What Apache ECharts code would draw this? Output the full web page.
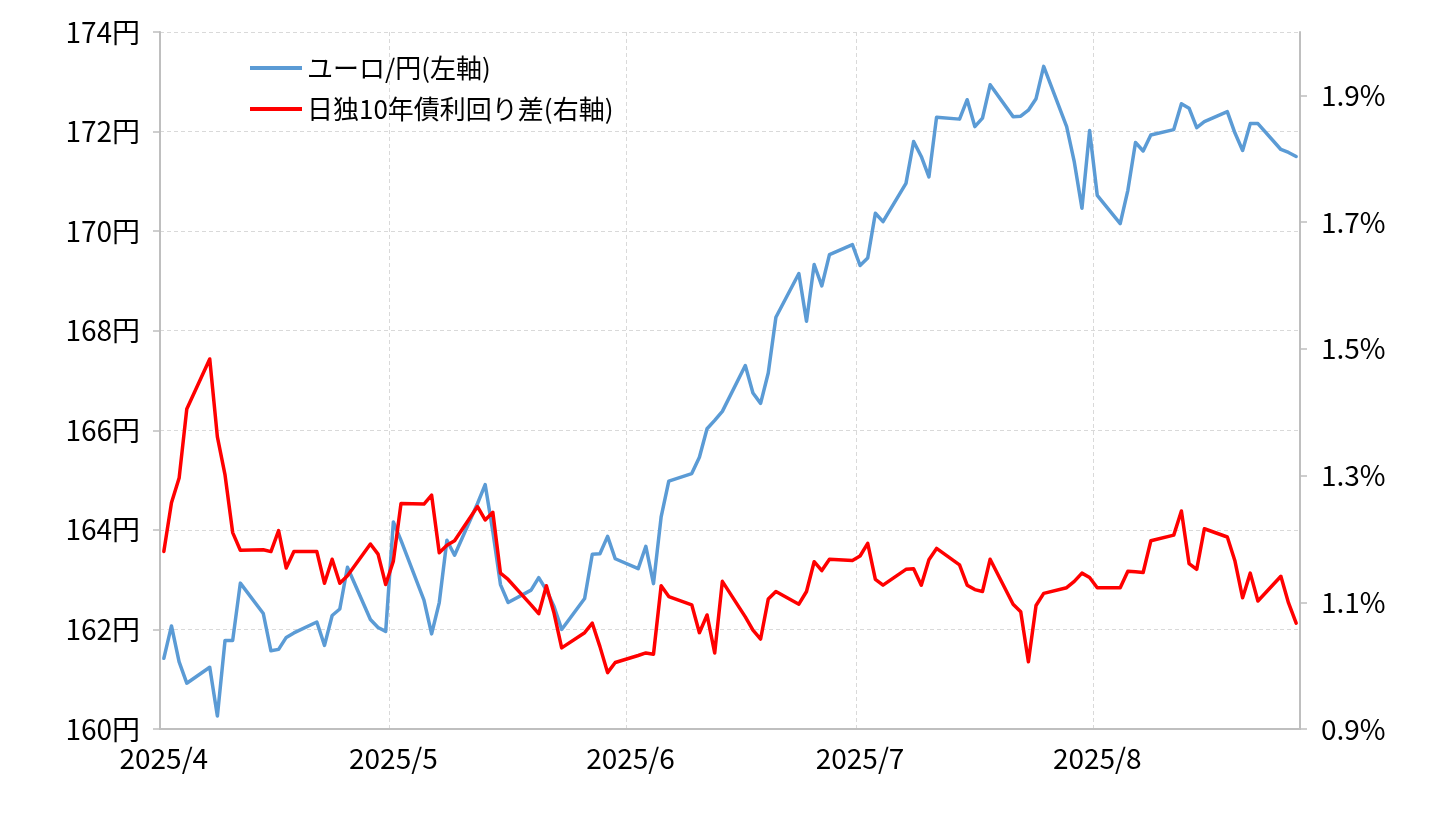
<!DOCTYPE html>
<html>
<head>
<meta charset="utf-8">
<script src="https://cdn.jsdelivr.net/npm/echarts@6/dist/echarts.min.js"></script>
<style>
html,body{margin:0;padding:0;background:#fff;}
#chart{width:1456px;height:816px;}
</style>
</head>
<body>
<div id="chart"></div>
<script>
// trading dates
const tradeDates = [
'2025-04-01','2025-04-02','2025-04-03','2025-04-04','2025-04-07','2025-04-08','2025-04-09','2025-04-10','2025-04-11','2025-04-14','2025-04-15','2025-04-16','2025-04-17','2025-04-18','2025-04-21','2025-04-22','2025-04-23','2025-04-24','2025-04-25','2025-04-28','2025-04-29','2025-04-30',
'2025-05-01','2025-05-02','2025-05-05','2025-05-06','2025-05-07','2025-05-08','2025-05-09','2025-05-12','2025-05-13','2025-05-14','2025-05-15','2025-05-16','2025-05-19','2025-05-20','2025-05-21','2025-05-22','2025-05-23','2025-05-26','2025-05-27','2025-05-28','2025-05-29','2025-05-30',
'2025-06-02','2025-06-03','2025-06-04','2025-06-05','2025-06-06','2025-06-09','2025-06-10','2025-06-11','2025-06-12','2025-06-13','2025-06-16','2025-06-17','2025-06-18','2025-06-19','2025-06-20','2025-06-23','2025-06-24','2025-06-25','2025-06-26','2025-06-27','2025-06-30',
'2025-07-01','2025-07-02','2025-07-03','2025-07-04','2025-07-07','2025-07-08','2025-07-09','2025-07-10','2025-07-11','2025-07-14','2025-07-15','2025-07-16','2025-07-17','2025-07-18','2025-07-21','2025-07-22','2025-07-23','2025-07-24','2025-07-25','2025-07-28','2025-07-29','2025-07-30','2025-07-31',
'2025-08-01','2025-08-04','2025-08-05','2025-08-06','2025-08-07','2025-08-08','2025-08-11','2025-08-12','2025-08-13','2025-08-14','2025-08-15','2025-08-18','2025-08-19','2025-08-20','2025-08-21','2025-08-22','2025-08-25','2025-08-26','2025-08-27'
];

// ユーロ/円 (left axis, yen)
const eurJpy = [
161.42,162.07,161.35,160.92,161.24,160.26,161.78,161.78,162.93,162.32,161.57,161.60,161.84,161.93,162.15,161.68,162.28,162.41,163.25,162.20,162.04,161.96,
164.16,163.79,162.59,161.91,162.54,163.79,163.49,164.53,164.91,163.97,162.90,162.54,162.79,163.04,162.79,162.46,162.00,162.62,163.51,163.52,163.87,163.42,
163.22,163.67,162.92,164.26,164.98,165.13,165.46,166.03,166.20,166.38,167.30,166.75,166.54,167.15,168.27,169.15,168.19,169.33,168.90,169.53,169.73,
169.31,169.46,170.36,170.19,170.96,171.80,171.50,171.09,172.29,172.25,172.64,172.10,172.27,172.94,172.30,172.31,172.43,172.66,173.31,172.10,171.39,170.46,172.02,
170.72,170.15,170.82,171.78,171.61,171.93,172.04,172.56,172.47,172.08,172.20,172.40,171.97,171.62,172.16,172.16,171.64,171.58,171.50
];

// 日独10年債利回り差 (right axis, %)
const spread = [
1.180,1.257,1.296,1.405,1.484,1.361,1.301,1.210,1.182,1.183,1.180,1.213,1.154,1.180,1.180,1.130,1.168,1.130,1.142,1.192,1.176,1.128,
1.165,1.256,1.255,1.269,1.178,1.190,1.197,1.251,1.230,1.242,1.146,1.136,1.096,1.082,1.126,1.083,1.028,1.052,1.067,1.030,0.989,1.005,
1.016,1.020,1.018,1.126,1.109,1.096,1.052,1.080,1.020,1.133,1.077,1.056,1.042,1.105,1.117,1.097,1.117,1.164,1.150,1.168,1.166,
1.173,1.193,1.136,1.127,1.152,1.153,1.127,1.167,1.185,1.159,1.127,1.120,1.117,1.168,1.097,1.085,1.006,1.095,1.114,1.123,1.133,1.146,1.139,
1.123,1.123,1.149,1.148,1.147,1.197,1.206,1.244,1.161,1.152,1.216,1.203,1.165,1.107,1.146,1.102,1.141,1.099,1.067
];

const seriesNames = ['ユーロ/円(左軸)', '日独10年債利回り差(右軸)'];
const leftTicks = {min:160, max:174, interval:2};
const rightTicks = {min:0.9, max:2.0, interval:0.2};

// build calendar-day categories (date axis)
function pad(n){return n<10?'0'+n:''+n;}
function parse(s){const p=s.split('-');return Date.UTC(+p[0],+p[1]-1,+p[2]);}
const days=[];
for(let t=parse(tradeDates[0]); t<=parse(tradeDates[tradeDates.length-1]); t+=86400000){
  const d=new Date(t);
  days.push(d.getUTCFullYear()+'-'+pad(d.getUTCMonth()+1)+'-'+pad(d.getUTCDate()));
}
const pos={}; tradeDates.forEach((d,i)=>pos[d]=i);
const blueData = days.map(d => (d in pos) ? eurJpy[pos[d]] : null);
const redData = days.map(d => (d in pos) ? spread[pos[d]] : null);
const isMonthStart = (i, v) => typeof v === 'string' ? v.slice(8)==='01' : days[i] && days[i].slice(8)==='01';

const FONT = "'Noto Sans CJK JP', 'Noto Sans', sans-serif";
const AXISC = '#BFBFBF';

const chart = echarts.init(document.getElementById('chart'), null, {renderer:'canvas'});
chart.setOption({
  backgroundColor:'#fff',
  animation:false,
  textStyle:{fontFamily:FONT},
  grid:{left:160, right:156, top:32, bottom:87, containLabel:false},
  legend:{
    orient:'vertical', left:245, top:50, itemWidth:52, itemHeight:4, itemGap:15,
    icon:'rect',
    textStyle:{fontFamily:FONT, fontSize:26, color:'#000'},
    data: seriesNames
  },
  xAxis:{
    type:'category', data:days, boundaryGap:true,
    axisLine:{show:true, lineStyle:{color:AXISC, width:2}},
    axisTick:{show:false},
    axisLabel:{
      interval:(i,v)=>isMonthStart(i,v),
      formatter:v=>{const p=v.split('-');return p[0]+'/'+(+p[1]);},
      fontFamily:FONT, fontSize:28, color:'#000', margin:15
    },
    splitLine:{show:true, interval:(i,v)=>isMonthStart(i,v), lineStyle:{color:'#D9D9D9', type:[4,3], width:1}}
  },
  yAxis:[
    {
      type:'value', min:leftTicks.min, max:leftTicks.max, interval:leftTicks.interval,
      axisLine:{show:true, lineStyle:{color:AXISC, width:2}},
      axisTick:{show:true, length:7, lineStyle:{color:AXISC, width:1.5}},
      axisLabel:{formatter:'{value}円', fontFamily:FONT, fontSize:28, color:'#000', margin:20},
      splitLine:{show:true, lineStyle:{color:'#D9D9D9', type:[4,3], width:1}}
    },
    {
      type:'value', position:'right', min:rightTicks.min, max:rightTicks.max, interval:rightTicks.interval,
      axisLine:{show:true, lineStyle:{color:AXISC, width:2}},
      axisTick:{show:true, length:7, lineStyle:{color:AXISC, width:1.5}},
      axisLabel:{formatter:v=>v.toFixed(1)+'%', showMaxLabel:false, fontFamily:FONT, fontSize:28, color:'#000', margin:21},
      splitLine:{show:false}
    }
  ],
  series:[
    {name:seriesNames[0], type:'line', yAxisIndex:0, data:blueData, connectNulls:true, showSymbol:false, symbol:'none',
     itemStyle:{color:'#5B9BD5'}, lineStyle:{color:'#5B9BD5', width:3.5, join:'round', cap:'round'}},
    {name:seriesNames[1], type:'line', yAxisIndex:1, data:redData, connectNulls:true, showSymbol:false, symbol:'none',
     itemStyle:{color:'#FF0000'}, lineStyle:{color:'#FF0000', width:3.5, join:'round', cap:'round'}}
  ]
});
</script>
</body>
</html>
